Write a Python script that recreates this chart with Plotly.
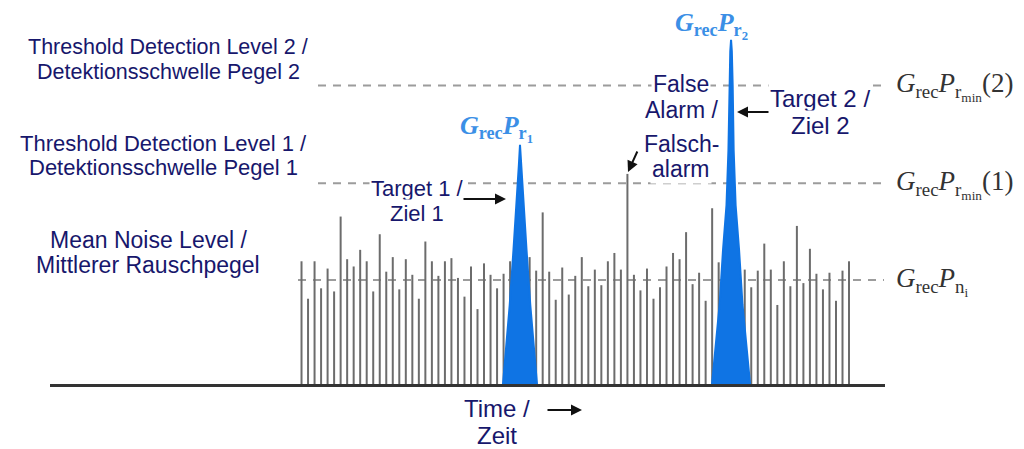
import plotly.graph_objects as go

# ---------------- data (time in sample units, amplitude relative to mean noise level) -------------
noise_time = list(range(85))
noise_amp = [1.18, 0.82, 1.18, 0.92, 1.11, 0.89, 1.61, 1.20, 1.13, 1.29,
             1.18, 0.89, 1.44, 1.08, 1.22, 0.91, 1.20, 1.05, 0.82, 1.37,
             1.18, 1.04, 1.18, 1.21, 1.02, 0.84, 1.13, 0.72, 1.16, 1.05,
             0.92, 1.06, 1.18, 1.10, 1.00, 1.22, 1.09, 1.65, 1.08, 0.81,
             1.12, 0.86, 1.04, 1.22, 0.94, 1.10, 0.95, 1.18, 1.26, 1.10,
             2.02, 1.05, 0.90, 1.11, 0.82, 0.93, 1.13, 1.26, 1.20, 1.46,
             0.96, 1.07, 0.80, 1.69, 1.17, 1.10, 1.00, 1.15, 1.10, 0.93,
             1.09, 1.35, 1.10, 0.76, 1.18, 0.94, 1.52, 0.97, 1.30, 1.06,
             0.91, 1.07, 0.80, 1.09, 1.18]

mean_noise_level = 1.0
threshold_1 = 1.93
threshold_2 = 2.87

target1_time = [30.91, 31.94, 32.52, 33.01, 33.34, 33.52, 33.70, 34.03, 34.52, 35.10, 36.13]
target1_amp = [0.0, 0.76, 1.29, 1.72, 2.10, 2.30, 2.10, 1.72, 1.29, 0.76, 0.0]

target2_time = [62.98, 64.14, 64.67, 65.20, 65.50, 65.65, 65.78, 65.90,
                66.02, 66.15, 66.30, 66.60, 67.13, 67.66, 68.82]
target2_amp = [0.0, 0.76, 1.29, 1.72, 2.25, 2.87, 3.20, 3.31,
               3.20, 2.87, 2.25, 1.72, 1.29, 0.76, 0.0]

# ---------------- layout helpers (positions given in page pixels) -----------------
PAGE_OFF = 8                      # the page body adds an 8px margin
W, H = 1024 - PAGE_OFF, 449 - PAGE_OFF
PL, PR, PT, PB = 50, 885, 8, 384  # plot area in page pixels
ML, MR, MT, MB = PL - PAGE_OFF, W - (PR - PAGE_OFF), PT - PAGE_OFF, H - (PB - PAGE_OFF)
X_RANGE = [-38.59, 89.52]
Y_RANGE = [0, (PB - PT) / 104.0]


def px(p):
    return (p - PL) / (PR - PL)


def py(p):
    return (PB - p) / (PB - PT)


def tx(p):
    return X_RANGE[0] + px(p) * (X_RANGE[1] - X_RANGE[0])


NAVY = "#17176c"
BLUE = "#0f74e4"
LBLUE = "#3b8fe6"
GRAY_SPIKE = "#6c6c6c"
DASH_COL = "#9c9c9c"

fig = go.Figure()

# dashed reference levels
for level, start_px in [(mean_noise_level, 298), (threshold_1, 318), (threshold_2, 318)]:
    fig.add_trace(go.Scatter(x=[tx(start_px), tx(884)], y=[level, level], mode="lines",
                             line=dict(color=DASH_COL, width=2, dash="8px,7px"),
                             hoverinfo="skip", showlegend=False))

# noise spikes
xs, ys = [], []
for t, a in zip(noise_time, noise_amp):
    xs += [t, t, None]
    ys += [0, a, None]
fig.add_trace(go.Scatter(x=xs, y=ys, mode="lines", line=dict(color=GRAY_SPIKE, width=2),
                         hoverinfo="skip", showlegend=False))

# target echoes
for tt, aa in [(target1_time, target1_amp), (target2_time, target2_amp)]:
    fig.add_trace(go.Scatter(x=tt, y=aa, mode="lines", fill="toself", fillcolor=BLUE,
                             line=dict(color=BLUE, width=2), hoverinfo="skip", showlegend=False))

ann = []


def label(lines, x, ys, size, bg=True):
    for text, y in zip(lines, ys):
        ann.append(dict(text=text, x=px(x), y=py(y), xref="paper", yref="paper",
                        showarrow=False, xanchor="center", yanchor="middle",
                        font=dict(family="Liberation Sans, Arial, sans-serif", size=size, color=NAVY),
                        bgcolor="white" if bg else None, borderpad=1))


label(["Threshold Detection Level 2 /", "Detektionsschwelle Pegel 2"], 168, [47, 72], 21.5)
label(["Threshold Detection Level 1 /", "Detektionsschwelle Pegel 1"], 163, [143, 168], 22)
label(["Mean Noise Level /", "Mittlerer Rauschpegel"], 148, [240, 265], 23)
label(["Target 1 /", "Ziel 1"], 417, [188, 213], 22)
label(["False", "Alarm /", "Falsch-", "alarm"], 681, [84, 110, 144, 169], 23)
label(["Target 2 /", "Ziel 2"], 820, [98, 125], 24)
label(["Time /", "Zeit"], 497, [408, 435], 24, bg=False)


def arrow(x0, y0, x1, y1):
    ann.append(dict(text="", x=px(x1), y=py(y1), xref="paper", yref="paper",
                    ax=x0 - x1, ay=y0 - y1, axref="pixel", ayref="pixel",
                    showarrow=True, arrowhead=2, arrowsize=1.1, arrowwidth=2,
                    arrowcolor="#111111", standoff=0))


arrow(462, 199, 506, 199)
arrow(770, 112, 737, 112)
arrow(638, 150, 628, 172)
arrow(546, 410, 582, 410)

SERIF = dict(family="Liberation Serif, Times New Roman, serif", size=27, color="#333333")
for txt, y in [("<i>G</i><sub>rec</sub><i>P</i><sub>r<sub>min</sub></sub>(2)", 86),
               ("<i>G</i><sub>rec</sub><i>P</i><sub>r<sub>min</sub></sub>(1)", 184),
               ("<i>G</i><sub>rec</sub><i>P</i><sub>n<sub>i</sub></sub>", 281)]:
    ann.append(dict(text=txt, x=px(894), y=py(y), xref="paper", yref="paper", showarrow=False,
                    xanchor="left", yanchor="middle", font=SERIF))

BSER = dict(family="Liberation Serif, Times New Roman, serif", size=26, color=LBLUE)
for txt, x, y in [("<b><i>G</i><sub>rec</sub><i>P</i><sub>r<sub>1</sub></sub></b>", 496, 129),
                  ("<b><i>G</i><sub>rec</sub><i>P</i><sub>r<sub>2</sub></sub></b>", 711, 25)]:
    ann.append(dict(text=txt, x=px(x), y=py(y), xref="paper", yref="paper", showarrow=False,
                    xanchor="center", yanchor="middle", font=BSER))

fig.update_layout(
    width=W, height=H, margin=dict(l=ML, r=MR, t=MT, b=MB, pad=0),
    paper_bgcolor="white", plot_bgcolor="white", showlegend=False,
    xaxis=dict(range=X_RANGE, showgrid=False, zeroline=False, showticklabels=False, ticks="",
               showline=True, linecolor="#333333", linewidth=3, fixedrange=True),
    yaxis=dict(range=Y_RANGE, showgrid=False, zeroline=False, showticklabels=False, ticks="",
               showline=False, fixedrange=True),
    annotations=ann,
)

fig.write_html("out.html")
